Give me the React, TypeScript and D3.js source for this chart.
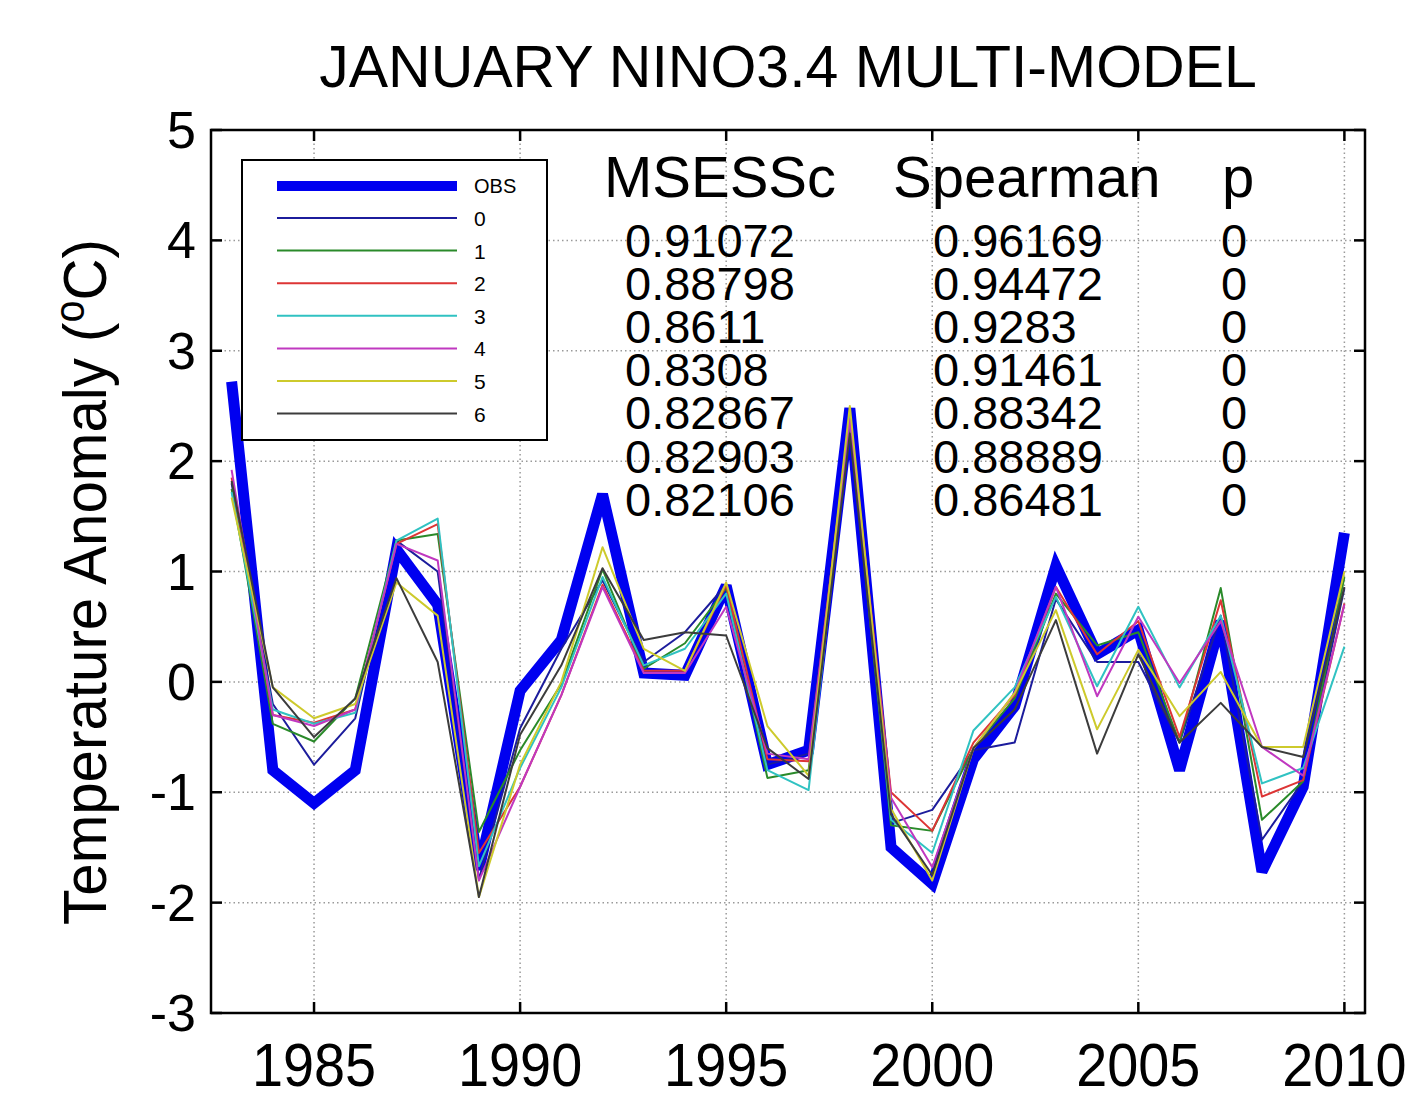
import * as d3 from "d3";

const years = [
  1983, 1984, 1985, 1986, 1987, 1988, 1989, 1990, 1991, 1992, 1993, 1994, 1995, 1996,
  1997, 1998, 1999, 2000, 2001, 2002, 2003, 2004, 2005, 2006, 2007, 2008, 2009, 2010,
];

const obs = [2.72, -0.8, -1.1, -0.8, 1.2, 0.7, -1.7, -0.08, 0.38, 1.7, 0.08, 0.06, 0.87, -0.75, -0.62, 2.48, -1.5, -1.83, -0.7, -0.22, 1.05, 0.25, 0.47, -0.8, 0.55, -1.72, -0.95, 1.35];

const model0 = [1.8, -0.2, -0.75, -0.33, 1.28, 1.0, -1.79, -0.42, 0.3, 0.92, 0.18, 0.45, 0.88, -0.75, -0.65, 2.4, -1.28, -1.16, -0.62, -0.55, 0.75, 0.18, 0.18, -0.55, 0.6, -1.43, -0.9, 0.85];
const model1 = [1.75, -0.38, -0.54, -0.15, 1.28, 1.34, -1.36, -0.62, -0.02, 1.02, 0.12, 0.35, 0.85, -0.87, -0.8, 2.35, -1.3, -1.35, -0.6, -0.15, 0.8, 0.33, 0.45, -0.55, 0.85, -1.25, -0.9, 0.95];
const model2 = [1.85, -0.3, -0.37, -0.25, 1.25, 1.43, -1.55, -0.95, -0.12, 0.88, 0.1, 0.1, 0.88, -0.7, -0.72, 2.4, -1.0, -1.35, -0.55, -0.12, 0.86, 0.25, 0.55, -0.5, 0.74, -1.04, -0.89, 0.71];
const model3 = [1.72, -0.25, -0.38, -0.28, 1.28, 1.48, -1.67, -0.78, -0.05, 0.95, 0.15, 0.3, 0.8, -0.8, -0.98, 2.4, -1.25, -1.55, -0.44, -0.05, 0.77, -0.04, 0.68, -0.05, 0.6, -0.92, -0.78, 0.32];
const model4 = [1.92, -0.3, -0.4, -0.25, 1.25, 1.1, -1.8, -0.95, -0.12, 0.86, 0.08, 0.08, 0.68, -0.65, -0.7, 2.38, -1.05, -1.68, -0.6, -0.1, 0.86, -0.13, 0.59, -0.01, 0.55, -0.59, -0.85, 0.7];
const model5 = [1.67, -0.05, -0.33, -0.2, 0.9, 0.6, -1.95, -0.75, 0.0, 1.22, 0.3, 0.1, 0.9, -0.4, -0.85, 2.5, -1.15, -1.8, -0.6, -0.1, 0.65, -0.43, 0.29, -0.31, 0.09, -0.59, -0.59, 1.0];
const model6 = [1.82, -0.05, -0.5, -0.15, 0.94, 0.18, -1.95, -0.48, 0.15, 1.03, 0.38, 0.45, 0.42, -0.6, -0.88, 2.25, -1.2, -1.75, -0.6, -0.25, 0.56, -0.65, 0.25, -0.55, -0.19, -0.59, -0.68, 0.86];

const modelNames = ["0", "1", "2", "3", "4", "5", "6"];
const modelColors = ["#1c1c9c", "#2a8a2a", "#dd3535", "#30c2c2", "#c038c0", "#cdca2c", "#3c3c3c"];
const modelValues = [model0, model1, model2, model3, model4, model5, model6];

const msessc = ["0.91072", "0.88798", "0.8611", "0.8308", "0.82867", "0.82903", "0.82106"];
const spearman = ["0.96169", "0.94472", "0.9283", "0.91461", "0.88342", "0.88889", "0.86481"];
const pValues = ["0", "0", "0", "0", "0", "0", "0"];

const xTicks = [1985, 1990, 1995, 2000, 2005, 2010];
const yTicks = [-3, -2, -1, 0, 1, 2, 3, 4, 5];

const W = 1406;
const H = 1098;
const margin = { top: 130, right: 41, bottom: 85, left: 211 };
const font = "'Liberation Sans', Arial, sans-serif";

export default function App() {
  const x = d3.scaleLinear().domain([1982.5, 2010.5]).range([margin.left, W - margin.right]);
  const y = d3.scaleLinear().domain([-3, 5]).range([H - margin.bottom, margin.top]);

  const line = d3
    .line<number>()
    .x((_, i) => x(years[i]))
    .y((d) => y(d));

  const left = margin.left;
  const right = W - margin.right;
  const top = margin.top;
  const bottom = H - margin.bottom;
  const tickLen = 11;

  // legend
  const lg = { x: 242, y: 160, w: 305, h: 280 };
  const lgRow = 32.6;

  return (
    <div style={{ position: "absolute", left: 0, top: 0 }}>
      <svg width={W} height={H} style={{ display: "block", background: "#fff" }} fontFamily={font}>
        <rect x={0} y={0} width={W} height={H} fill="#fff" />

        {/* grid */}
        {xTicks.map((t) => (
          <line key={"gx" + t} x1={x(t)} x2={x(t)} y1={top} y2={bottom} stroke="#9a9a9a" strokeWidth={1.5} strokeDasharray="1.5,3" />
        ))}
        {yTicks.slice(1, -1).map((t) => (
          <line key={"gy" + t} x1={left} x2={right} y1={y(t)} y2={y(t)} stroke="#9a9a9a" strokeWidth={1.5} strokeDasharray="1.5,3" />
        ))}

        {/* observations */}
        <path d={line(obs) || ""} fill="none" stroke="#0000f0" strokeWidth={11} strokeLinejoin="miter" strokeMiterlimit={3} />

        {/* models */}
        {modelValues.map((vals, k) => (
          <path key={"m" + k} d={line(vals) || ""} fill="none" stroke={modelColors[k]} strokeWidth={2} strokeLinejoin="round" />
        ))}

        {/* axes box and ticks */}
        <rect x={left} y={top} width={right - left} height={bottom - top} fill="none" stroke="#000" strokeWidth={2.5} />
        {xTicks.map((t) => (
          <g key={"tx" + t}>
            <line x1={x(t)} x2={x(t)} y1={bottom} y2={bottom - tickLen} stroke="#000" strokeWidth={2.5} />
            <line x1={x(t)} x2={x(t)} y1={top} y2={top + tickLen} stroke="#000" strokeWidth={2.5} />
            <text
              transform={`translate(${x(t)},${bottom + 73}) scale(0.9,1)`}
              textAnchor="middle"
              fontSize={62}
              fill="#000"
            >
              {t}
            </text>
          </g>
        ))}
        {yTicks.map((t) => (
          <g key={"ty" + t}>
            <line x1={left} x2={left + tickLen} y1={y(t)} y2={y(t)} stroke="#000" strokeWidth={2.5} />
            <line x1={right} x2={right - tickLen} y1={y(t)} y2={y(t)} stroke="#000" strokeWidth={2.5} />
            <text x={left - 15} y={y(t) + 18} textAnchor="end" fontSize={52} fill="#000">
              {t}
            </text>
          </g>
        ))}

        {/* title */}
        <text x={(left + right) / 2} y={87} textAnchor="middle" fontSize={59} fill="#000">
          JANUARY NINO3.4 MULTI-MODEL
        </text>

        {/* y label */}
        <text transform={`translate(106,582) rotate(-90) scale(0.94,1)`} textAnchor="middle" fontSize={62} fill="#000">
          Temperature Anomaly (
          <tspan dy={-22} fontSize={42}>o</tspan>
          <tspan dy={22}>C)</tspan>
        </text>

        {/* stats table */}
        <text x={604} y={197} fontSize={58} fill="#000">MSESSc</text>
        <text x={893} y={197} fontSize={58} fill="#000">Spearman</text>
        <text x={1222} y={197} fontSize={58} fill="#000">p</text>
        {msessc.map((v, i) => (
          <g key={"st" + i}>
            <text x={625} y={257 + i * 43.1} fontSize={47} fill="#000">{v}</text>
            <text x={933} y={257 + i * 43.1} fontSize={47} fill="#000">{spearman[i]}</text>
            <text x={1221} y={257 + i * 43.1} fontSize={47} fill="#000">{pValues[i]}</text>
          </g>
        ))}

        {/* legend */}
        <rect x={lg.x} y={lg.y} width={lg.w} height={lg.h} fill="#fff" stroke="#000" strokeWidth={2} />
        <line x1={277} x2={457} y1={186} y2={186} stroke="#0000f0" strokeWidth={10} />
        <text x={474} y={193} fontSize={20} fill="#000">OBS</text>
        {modelNames.map((n, k) => (
          <g key={"lg" + n}>
            <line x1={277} x2={457} y1={218 + k * lgRow} y2={218 + k * lgRow} stroke={modelColors[k]} strokeWidth={2} />
            <text x={474} y={226 + k * lgRow} fontSize={21} fill="#000">{n}</text>
          </g>
        ))}
      </svg>
    </div>
  );
}
